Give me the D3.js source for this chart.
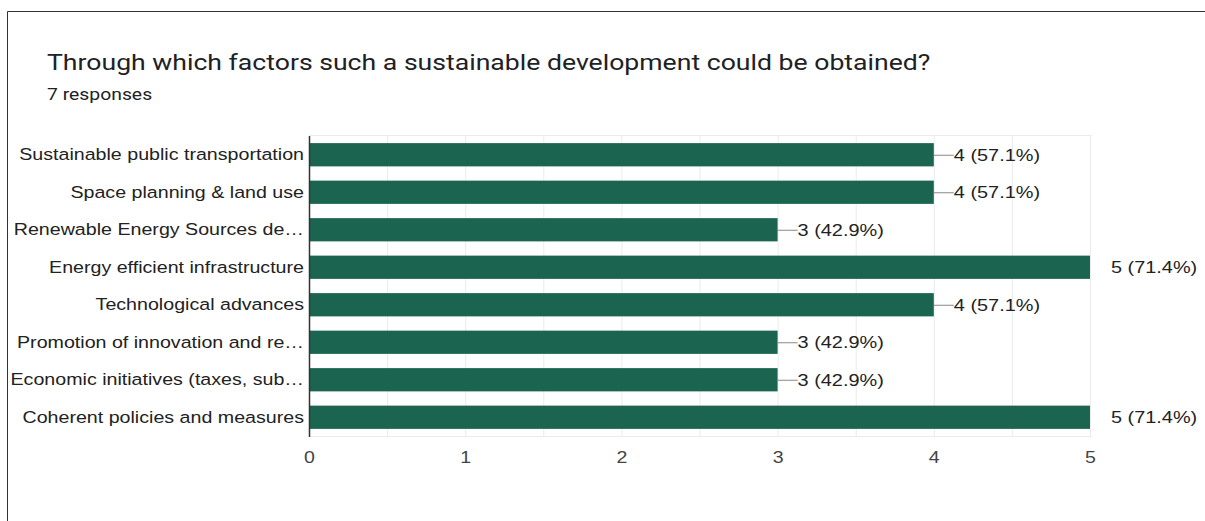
<!DOCTYPE html>
<html><head><meta charset="utf-8">
<script src="https://cdn.jsdelivr.net/npm/d3@7"></script>
<style>body{margin:0;background:#fff}svg{display:block}</style>
</head><body>
<script>
const categories = ["Sustainable public transportation","Space planning & land use","Renewable Energy Sources de\u2026","Energy efficient infrastructure","Technological advances","Promotion of innovation and re\u2026","Economic initiatives (taxes, sub\u2026","Coherent policies and measures"];
const counts = [4,4,3,5,4,3,3,5];
const percents = ["57.1%","57.1%","42.9%","71.4%","57.1%","42.9%","42.9%","71.4%"];
const xTicks = [0,1,2,3,4,5];
const title = "Through which factors such a sustainable development could be obtained?";
const subtitle = "7 responses";

(function(){
const W=1205,H=521;
const svg=d3.select("body").append("svg").attr("width",W).attr("height",H);
const SX=1.17;
// frame
svg.append("path").attr("d","M7.5,521 V11.5 H1205").attr("fill","none").attr("stroke","#333").attr("stroke-width",1);
svg.append("text").attr("transform","translate(47,70) scale(1.21,1)").attr("font-family","Roboto, 'Open Sans', sans-serif").attr("font-size",22).attr("fill","#202124").text(title);
svg.append("text").attr("transform","translate(47,100) scale(1.21,1)").attr("font-family","Roboto, sans-serif").attr("font-size",16).attr("fill","#202124").text(subtitle);

const pl=309,pr=1090,pt=136,pb=436;
const x=d3.scaleLinear().domain([0,5]).range([pl,pr]);
const y=d3.scaleBand().domain(categories).range([pt,pb]).paddingInner(0.38).paddingOuter(0.19);
const g=svg.append("g");
// grid
const gridVals=d3.range(0,5.01,0.5);
g.selectAll("line.grid").data(gridVals).enter().append("line")
 .attr("x1",d=>x(d)+0.5).attr("x2",d=>x(d)+0.5).attr("y1",pt-1).attr("y2",pb+1)
 .attr("stroke","#ebebeb");
g.append("line").attr("x1",pl).attr("x2",pr+2).attr("y1",pt-0.5).attr("y2",pt-0.5).attr("stroke","#ebebeb");
g.append("line").attr("x1",pl).attr("x2",pr+2).attr("y1",pb+0.5).attr("y2",pb+0.5).attr("stroke","#ebebeb");
// bars
g.selectAll("rect.bar").data(counts).enter().append("rect")
 .attr("x",pl).attr("y",(d,i)=>y(categories[i])).attr("width",d=>x(d)-pl).attr("height",y.bandwidth())
 .attr("fill","#1a6450");
// axis line
g.append("line").attr("x1",pl+0.5).attr("x2",pl+0.5).attr("y1",pt).attr("y2",pb+1).attr("stroke","#333").attr("stroke-width",1.5);
// y labels
const yAxis=d3.axisLeft(y).tickSize(0).tickPadding(0);
const ya=svg.append("g").attr("transform",`translate(${pl-5},0)`).call(yAxis);
ya.select(".domain").remove();
ya.selectAll("text").attr("x",0).attr("transform","scale(1.155,1)").attr("font-family","Arial, 'Liberation Sans', sans-serif").attr("font-size",17).attr("fill","#222");
// x labels
const xAxis=d3.axisBottom(x).tickValues(xTicks).tickSize(0).tickPadding(0).tickFormat(d3.format("d"));
const xa=svg.append("g").attr("transform",`translate(0,${pb+15})`).call(xAxis);
xa.select(".domain").remove();
xa.selectAll("text").attr("transform","scale(1.15,1)").attr("font-family","Arial, 'Liberation Sans', sans-serif").attr("font-size",17).attr("fill","#444");
// value labels
counts.forEach((d,i)=>{
  const cy=y(categories[i])+y.bandwidth()/2;
  const full=d===5;
  if(!full){
    g.append("line").attr("x1",x(d)).attr("x2",x(d)+20).attr("y1",cy+0.5).attr("y2",cy+0.5).attr("stroke","#888");
  }
  const tx=full?x(d)+21:x(d)+20;
  g.append("text").attr("transform",`translate(${tx},${cy}) scale(${SX},1)`).attr("dy","0.35em")
   .attr("font-family","Arial, 'Liberation Sans', sans-serif").attr("font-size",17).attr("fill","#222")
   .text(`${d} (${percents[i]})`);
});
})();
</script>
</body></html>
